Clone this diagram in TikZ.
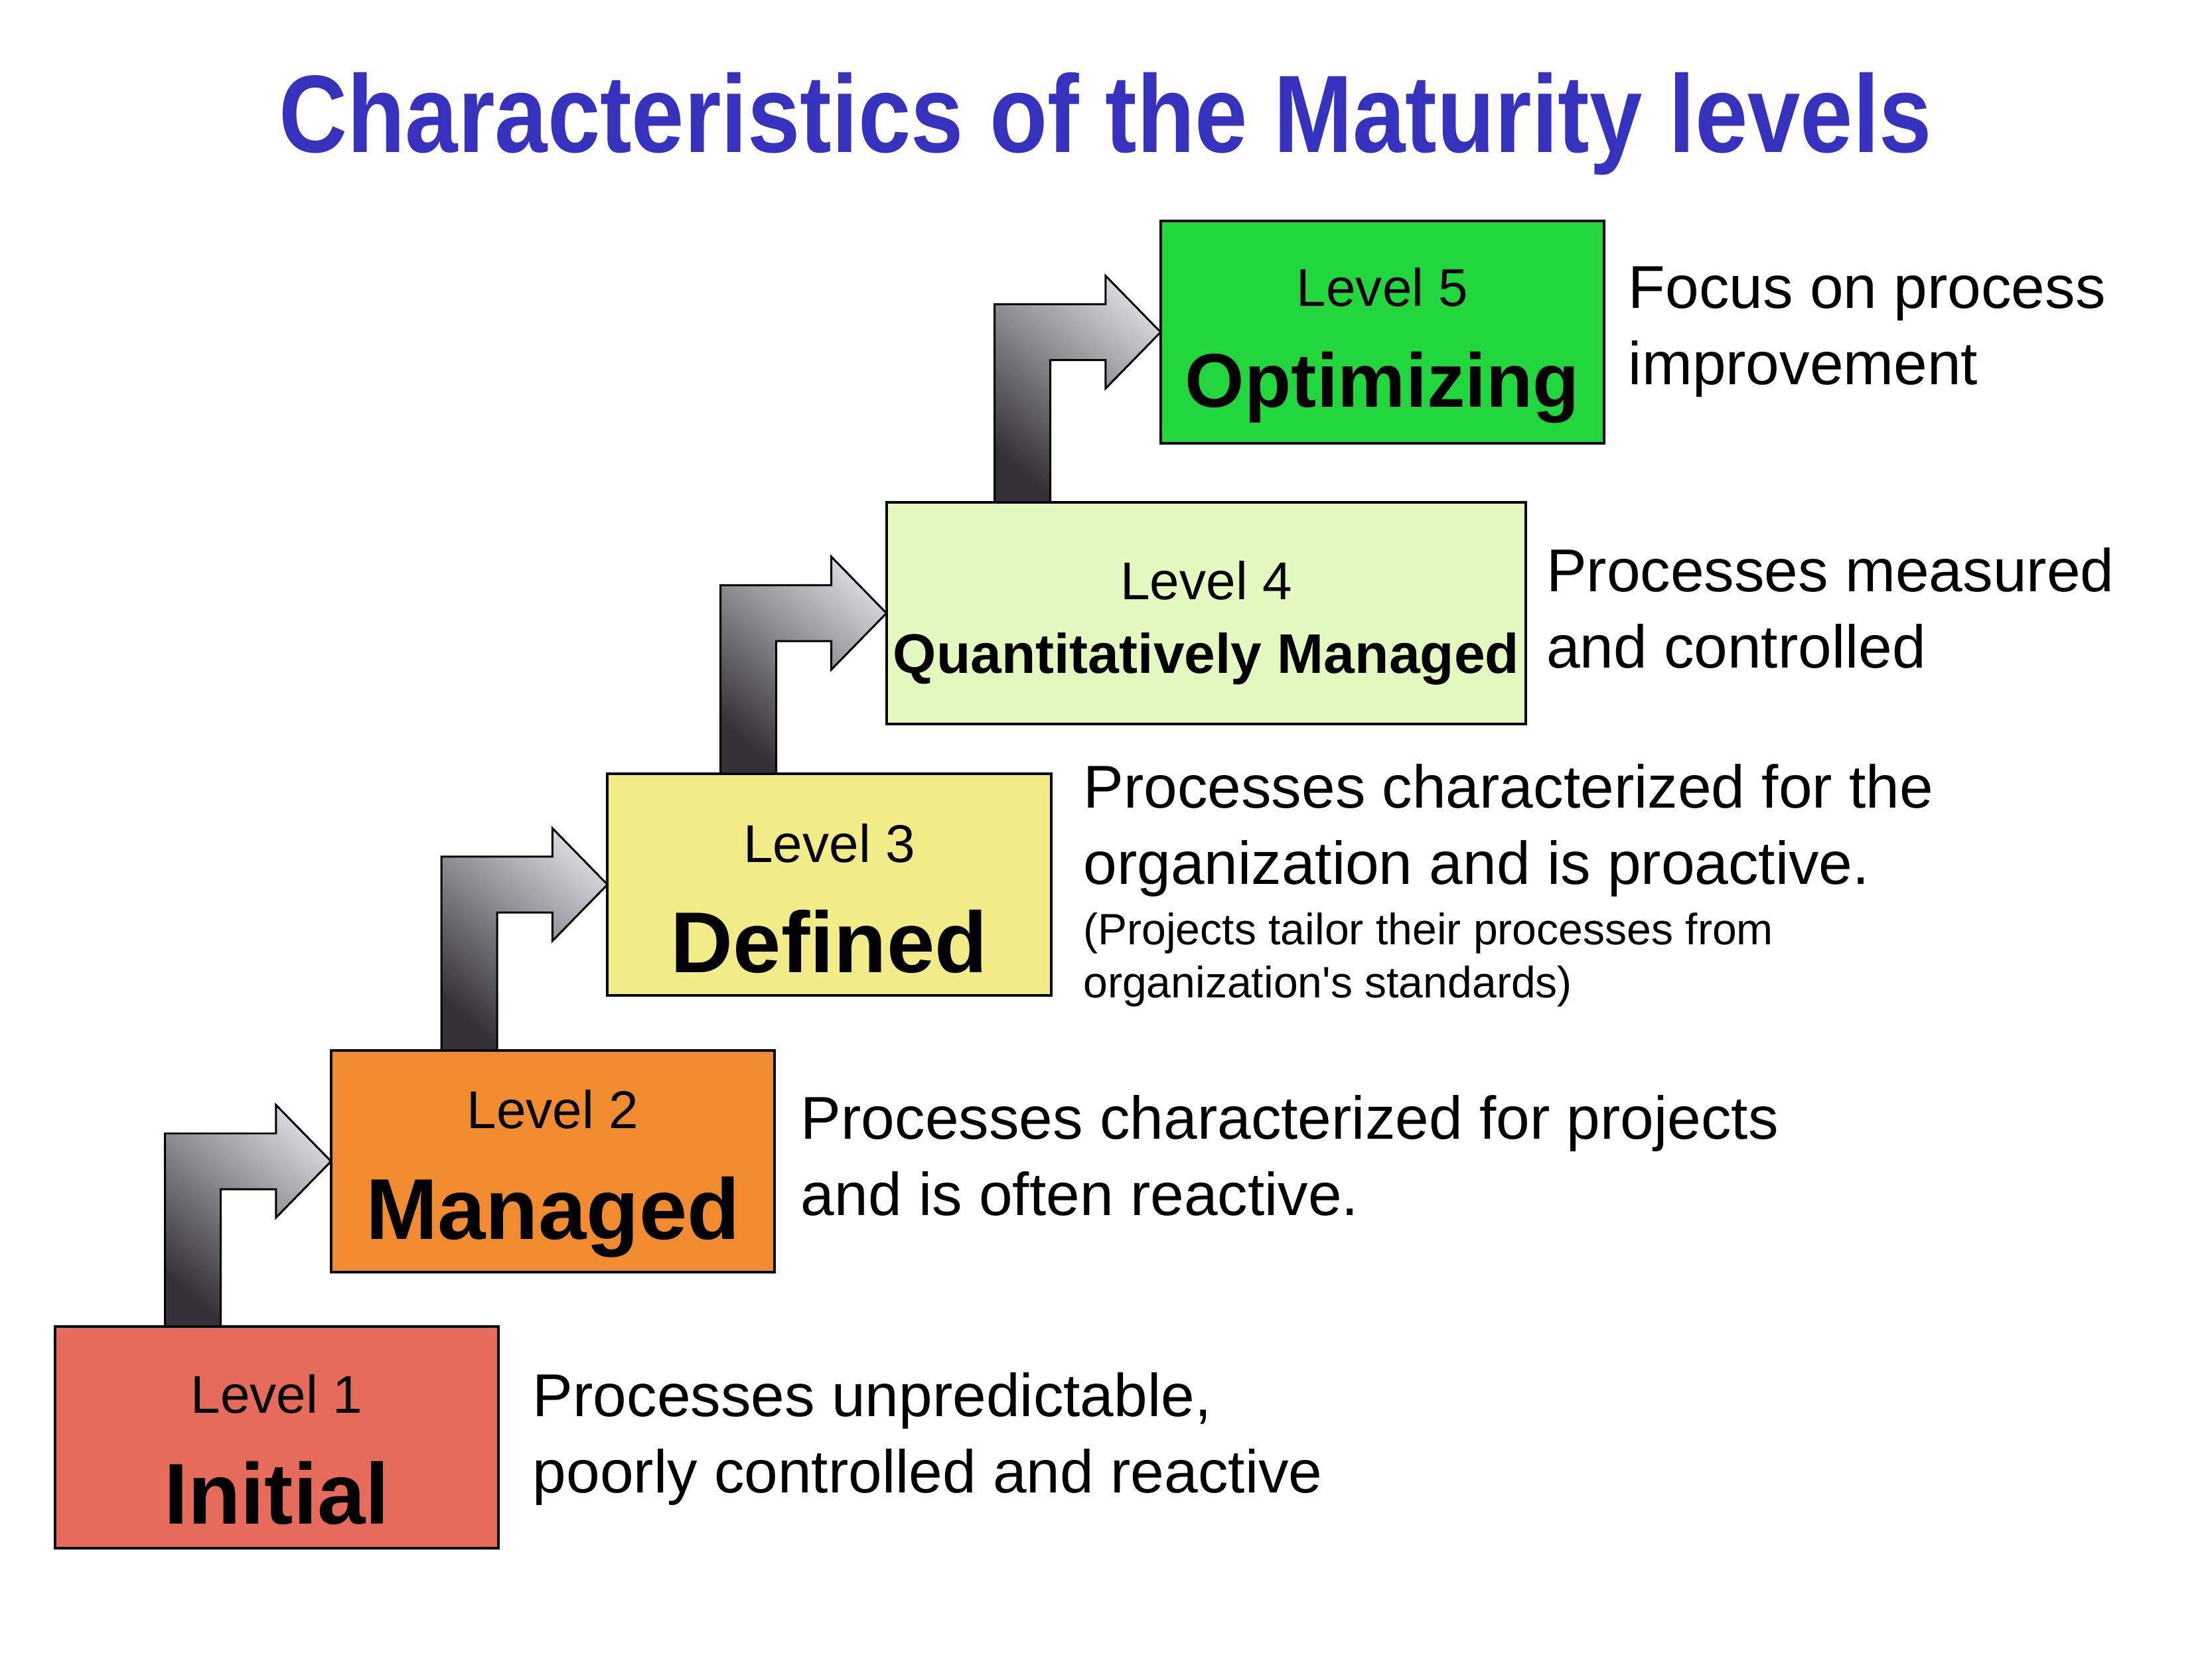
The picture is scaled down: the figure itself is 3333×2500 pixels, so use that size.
\documentclass[tikz,border=0pt]{standalone}
\usepackage{fontspec}
\setmainfont{Liberation Sans}
\newfontfamily\titlefont{Liberation Sans}[FakeStretch=0.86]
\usetikzlibrary{calc,positioning}
\definecolor{titleblue}{HTML}{3732BE}
\definecolor{initialred}{HTML}{E66B5B}
\definecolor{managedorange}{HTML}{F08B30}
\definecolor{definedyellow}{HTML}{F2EC88}
\definecolor{quantgreen}{HTML}{E3F9C0}
\definecolor{optigreen}{HTML}{22D63E}
\definecolor{arrowdark}{HTML}{343238}
\definecolor{arrowlight}{HTML}{D4D4DA}
\tikzset{
    %Define style for level boxes
    levelbox/.style={
           rectangle,
           draw=black, line width=1.15pt,
           minimum width=6.68cm,
           minimum height=3.34cm,
           inner sep=0pt, outer sep=0pt},
    % Define style for the bent arrows
    bentarrow/.style={
           draw=black, line width=0.85pt,
           top color=arrowlight,
           bottom color=arrowdark,
           shading angle=-40},
    % Define text styles
    lvltext/.style={anchor=base, inner sep=0pt, font=\fontsize{22.8}{27}\selectfont},
    nametext/.style={anchor=base, inner sep=0pt, font=\bfseries\fontsize{37}{44}\selectfont},
    desc/.style={anchor=base west, inner sep=0pt, align=left, font=\fontsize{25.9}{32.7}\selectfont},
    smalldesc/.style={anchor=base west, inner sep=0pt, align=left, font=\fontsize{18.8}{22.8}\selectfont},
    heading/.style={anchor=base, inner sep=0pt, text=titleblue, font=\titlefont\bfseries\fontsize{47.2}{56}\selectfont}
}

\begin{document}
\begin{tikzpicture}[x=0.01cm, y=-0.01cm]
  \useasboundingbox (0,0) rectangle (3333,2500);
  \node[heading] (title) at (1666,230) {Characteristics of the Maturity levels};

  % boxes
  \node[levelbox, fill=initialred] (l1) at (417,2166) {};
  \node[levelbox, fill=managedorange] (l2) at (833,1750) {};
  \node[levelbox, fill=definedyellow] (l3) at (1249.5,1333) {};
  \node[levelbox, fill=quantgreen, minimum width=9.63cm] (l4) at (1817.5,924) {};
  \node[levelbox, fill=optigreen] (l5) at (2083,500.5) {};

  % arrows
  \foreach \src/\dst in {l1/l2,l2/l3,l3/l4,l4/l5}
    \shade[bentarrow] let \p1=(\src.north), \p2=(\dst.west) in
      (\x2-2.5cm,\y1) -- (\x2-2.5cm,\y2+0.42cm) -- (\x2-0.83cm,\y2+0.42cm)
      -- (\x2-0.83cm,\y2+0.85cm) -- (\p2) -- (\x2-0.83cm,\y2-0.85cm)
      -- (\x2-0.83cm,\y2-0.42cm) -- (\x2-1.66cm,\y2-0.42cm) -- (\x2-1.66cm,\y1) -- cycle;

  % box labels
  \node[lvltext] (n1) at ($(l1.north)+(0,131)$) {Level 1};
  \node[nametext] (m1) at ($(l1.north)+(0,298)$) {Initial};
  \node[lvltext] (n2) at ($(l2.north)+(0,118)$) {Level 2};
  \node[nametext] (m2) at ($(l2.north)+(0,285)$) {Managed};
  \node[lvltext] (n3) at ($(l3.north)+(0,134)$) {Level 3};
  \node[nametext] (m3) at ($(l3.north)+(0,300)$) {Defined};
  \node[lvltext] (n4) at ($(l4.north)+(0,147)$) {Level 4};
  \node[nametext, font=\bfseries\fontsize{23.9}{28}\selectfont] (m4) at ($(l4.north)+(0,258)$) {Quantitatively Managed};
  \node[lvltext] (n5) at ($(l5.north)+(0,128)$) {Level 5};
  \node[nametext, font=\bfseries\fontsize{32.7}{39}\selectfont] (m5) at ($(l5.north)+(0,280)$) {Optimizing};

  % descriptions (base is the last line)
  \node[desc] (d1) at ($(l1.north east)+(51,251)$) {Processes unpredictable,\\poorly controlled and reactive};
  \node[desc] (d2) at ($(l2.north east)+(39,249)$) {Processes characterized for projects\\and is often reactive.};
  \node[desc] (d3) at ($(l3.north east)+(48,167)$) {Processes characterized for the\\organization and is proactive.};
  \node[smalldesc] (d3s) at ($(l3.north east)+(48,338)$) {(Projects tailor their processes from\\organization\textquotesingle s standards)};
  \node[desc] (d4) at ($(l4.north east)+(30,250)$) {Processes measured\\and controlled};
  \node[desc] (d5) at ($(l5.north east)+(36,246)$) {Focus on process\\improvement};
\end{tikzpicture}
\end{document}
